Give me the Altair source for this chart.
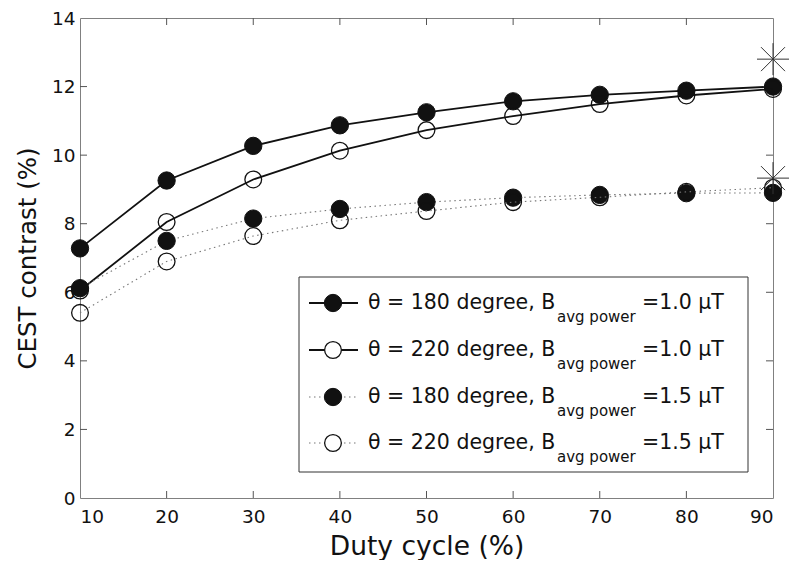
import altair as alt
import pandas as pd

# ---------------- data ----------------
duty = [10, 20, 30, 40, 50, 60, 70, 80, 90]
s180_b10 = [7.28, 9.26, 10.27, 10.87, 11.25, 11.57, 11.76, 11.88, 12.00]
s220_b10 = [6.05, 8.05, 9.29, 10.13, 10.73, 11.14, 11.49, 11.74, 11.93]
s180_b15 = [6.12, 7.50, 8.15, 8.43, 8.63, 8.76, 8.84, 8.89, 8.90]
s220_b15 = [5.40, 6.90, 7.64, 8.10, 8.37, 8.63, 8.77, 8.93, 9.05]
star_duty = [90, 90]
star_val = [12.80, 9.33]

x_ticks = [10, 20, 30, 40, 50, 60, 70, 80, 90]
y_ticks = [0, 2, 4, 6, 8, 10, 12, 14]

legend_main = ["θ = 180 degree, B", "θ = 220 degree, B", "θ = 180 degree, B", "θ = 220 degree, B"]
legend_sub = ["avg power"] * 4
legend_val = ["=1.0 μT", "=1.0 μT", "=1.5 μT", "=1.5 μT"]

series_names = ["s180_b10", "s220_b10", "s180_b15", "s220_b15"]
series_vals = [s180_b10, s220_b10, s180_b15, s220_b15]
series_filled = [True, False, True, False]
series_solid = [True, True, False, False]

# ---------------- layout ----------------
W, H = 693, 480
TOP = 10
FONT = "DejaVu Sans"

xs = alt.Scale(domain=[10, 90], nice=False, zero=False)
ys = alt.Scale(domain=[0, 14], nice=False, zero=True)

xaxis = alt.Axis(values=x_ticks, ticks=False, domain=False, grid=False,
                 labelFont=FONT, labelFontSize=18.5, labelColor="#111",
                 labelPadding=9, title="Duty cycle (%)", titleFont=FONT,
                 titleFontSize=26.5, titleFontWeight="normal", titleColor="#111",
                 titleBaseline="alphabetic", titleY=56)
yaxis = alt.Axis(values=y_ticks, ticks=False, domain=False, grid=False,
                 labelFont=FONT, labelFontSize=18.5, labelColor="#111",
                 labelPadding=5, title="CEST contrast (%)", titleFont=FONT,
                 titleFontSize=24.5, titleFontWeight="normal", titleColor="#111",
                 titleBaseline="alphabetic", titleX=-45)

def X(field="duty"):
    return alt.X(f"{field}:Q", scale=xs, axis=xaxis)

def Y(field="val"):
    return alt.Y(f"{field}:Q", scale=ys, axis=yaxis)

rows = []
for name, vals in zip(series_names, series_vals):
    for d, v in zip(duty, vals):
        rows.append({"series": name, "duty": d, "val": v})
df = pd.DataFrame(rows)

layers = []

# inward ticks (box style)
xt = pd.DataFrame({"duty": x_ticks[1:-1]})
yt = pd.DataFrame({"val": y_ticks[1:-1]})
tick_col = "#555"
layers.append(alt.Chart(xt).mark_rule(color=tick_col, strokeWidth=1).encode(
    x=X(), y=alt.value(H - 7), y2=alt.value(H)))
layers.append(alt.Chart(xt).mark_rule(color=tick_col, strokeWidth=1).encode(
    x=X(), y=alt.value(0), y2=alt.value(7)))
layers.append(alt.Chart(yt).mark_rule(color=tick_col, strokeWidth=1).encode(
    y=Y(), x=alt.value(0), x2=alt.value(7)))
layers.append(alt.Chart(yt).mark_rule(color=tick_col, strokeWidth=1).encode(
    y=Y(), x=alt.value(W - 7), x2=alt.value(W)))

for name, filled, solid in zip(series_names, series_filled, series_solid):
    sub = alt.Chart(df).transform_filter(alt.datum.series == name)
    if solid:
        line = sub.mark_line(color="#111", strokeWidth=1.8)
    else:
        line = sub.mark_line(color="#777", strokeWidth=1.1, strokeDash=[1.5, 3.5])
    layers.append(line.encode(x=X(), y=Y()))
    if filled:
        pt = sub.mark_point(shape="circle", filled=True, fill="#111", stroke="#111",
                            strokeWidth=1, size=300, opacity=1)
    else:
        pt = sub.mark_point(shape="circle", filled=False, stroke="#111",
                            strokeWidth=1.3, size=280, opacity=1)
    layers.append(pt.encode(x=X(), y=Y()))

stars = pd.DataFrame({"duty": star_duty, "val": star_val})
star_path = "M-1,0L1,0M0,-1L0,1M-0.75,-0.75L0.75,0.75M-0.75,0.75L0.75,-0.75"
layers.append(alt.Chart(stars).mark_point(shape=star_path, filled=False, stroke="#333",
                                          strokeWidth=1, size=1024, opacity=1).encode(
    x=X(), y=Y()))

# legend box (pixel offsets relative to the plot area)
one = pd.DataFrame({"k": [0]})
off = 16 - (8 + TOP)
layers.append(alt.Chart(one).mark_rect(fill="white", stroke="#333", strokeWidth=1).encode(
    x=alt.value(219), x2=alt.value(668), y=alt.value(261 + off), y2=alt.value(456 + off)))

row_y = [287 + off, 334 + off, 381 + off, 427 + off]
for i in range(4):
    ry = row_y[i]
    if series_solid[i]:
        lg_line = alt.Chart(one).mark_rule(color="#111", strokeWidth=1.8)
    else:
        lg_line = alt.Chart(one).mark_rule(color="#777", strokeWidth=1.1, strokeDash=[1.5, 3.5])
    layers.append(lg_line.encode(x=alt.value(229), x2=alt.value(278), y=alt.value(ry)))
    if series_filled[i]:
        lp = alt.Chart(one).mark_point(shape="circle", filled=True, fill="#111", stroke="#111",
                                       strokeWidth=1, size=300, opacity=1)
    else:
        lp = alt.Chart(one).mark_point(shape="circle", filled=False, fill="white", stroke="#111",
                                       strokeWidth=1.3, size=280, opacity=1)
    layers.append(lp.encode(x=alt.value(253), y=alt.value(ry)))
    layers.append(alt.Chart(one).mark_text(text=legend_main[i], font=FONT, fontSize=20.5,
                                           align="left", baseline="middle", color="#111").encode(
        x=alt.value(288), y=alt.value(ry)))
    layers.append(alt.Chart(one).mark_text(text=legend_sub[i], font=FONT, fontSize=15,
                                           align="left", baseline="middle", color="#111").encode(
        x=alt.value(477), y=alt.value(ry + 14)))
    layers.append(alt.Chart(one).mark_text(text=legend_val[i], font=FONT, fontSize=20.5,
                                           align="left", baseline="middle", color="#111").encode(
        x=alt.value(562), y=alt.value(ry)))

chart = alt.layer(*layers).properties(
    width=W, height=H,
    autosize=alt.AutoSizeParams(type="none"),
    padding={"left": 72, "top": TOP, "right": 19, "bottom": 552 - TOP - H},
    background="white",
).configure_view(stroke="#808080", strokeWidth=1)

chart.save("out.html", embed_options={"renderer": "svg", "actions": False})
